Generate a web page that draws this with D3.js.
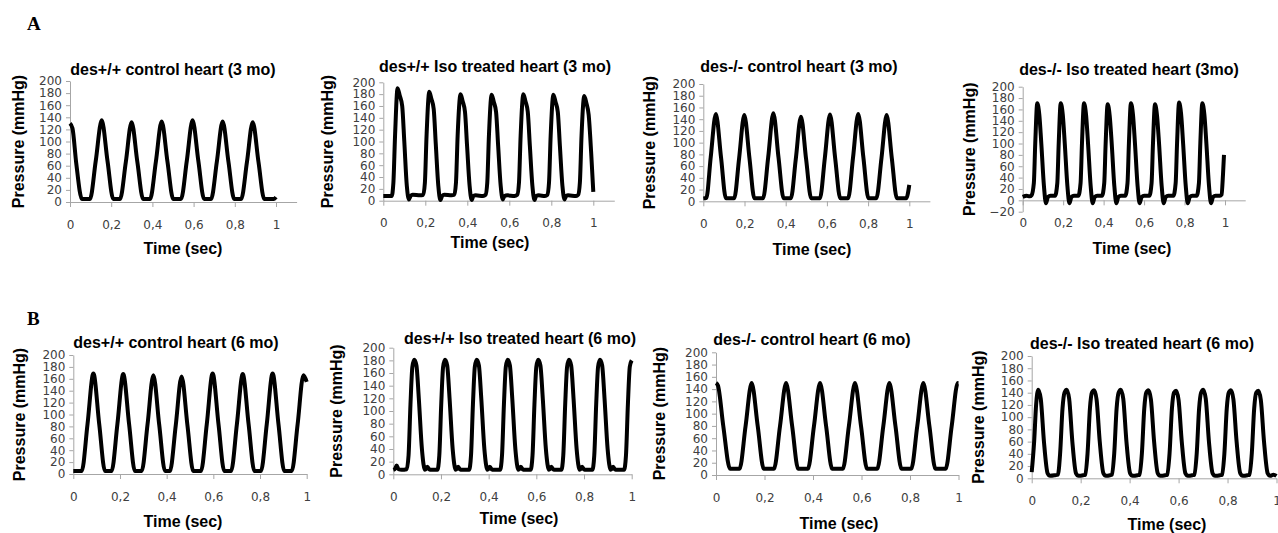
<!DOCTYPE html>
<html>
<head>
<meta charset="utf-8">
<script src="https://cdnjs.cloudflare.com/ajax/libs/d3/7.8.5/d3.min.js"></script>
<style>
body { margin: 0; background: #fff; }
</style>
</head>
<body>
<svg id="chart" width="1278" height="533"></svg>
<script>
// Pressure traces (time in sec, pressure in mmHg)
var a1Time = [0,0.012,0.03,0.058,0.097,0.125,0.154,0.182,0.21,0.243,0.271,0.299,0.327,0.355,0.389,0.417,0.445,0.473,0.501,0.539,0.567,0.595,0.623,0.651,0.685,0.713,0.741,0.769,0.797,0.831,0.859,0.887,0.915,0.943,0.99,1.0];
var a1Pressure = [130,122,65,5,5,68,135,68,5,5,66,132,66,5,5,67,133,67,5,5,68,135,68,5,5,67,133,67,5,5,66,132,66,5,5,8];

var a2Time = [0,0.04,0.048,0.056,0.068,0.078,0.09,0.1,0.112,0.122,0.13,0.14,0.175,0.19,0.198,0.206,0.219,0.229,0.24,0.25,0.262,0.272,0.28,0.29,0.325,0.338,0.346,0.354,0.368,0.378,0.389,0.399,0.411,0.421,0.429,0.44,0.475,0.487,0.495,0.503,0.516,0.526,0.537,0.547,0.559,0.569,0.577,0.59,0.625,0.638,0.646,0.654,0.667,0.677,0.688,0.698,0.71,0.72,0.728,0.74,0.77,0.781,0.789,0.797,0.81,0.82,0.831,0.841,0.853,0.863,0.871,0.88,0.918,0.928,0.936,0.944,0.957,0.967,0.978,0.99,1.0];
var a2Pressure = [8,8,30,110,190,178,160,100,25,2,8,10,9,10,30,110,184,172,155,95,25,1,8,10,9,10,30,110,180,168,150,92,25,1,8,9,8,10,30,110,179,167,150,92,25,2,8,9,8,10,30,110,180,168,150,92,25,1,8,9,8,10,30,110,179,167,150,92,25,2,8,9,8,10,30,110,177,165,145,80,15];

var a3Time = [0,0.015,0.036,0.061,0.086,0.11,0.15,0.174,0.199,0.224,0.248,0.29,0.315,0.34,0.365,0.39,0.425,0.449,0.474,0.499,0.524,0.566,0.59,0.615,0.64,0.665,0.703,0.727,0.752,0.777,0.802,0.84,0.865,0.89,0.915,0.94,0.985,1.0];
var a3Pressure = [5,6,75,149,75,5,5,74,147,74,5,5,75,150,75,5,5,72,144,72,5,5,74,148,74,5,5,75,149,75,5,5,74,147,74,5,5,28];

var a4Time = [0,0.02,0.035,0.044,0.055,0.062,0.072,0.082,0.092,0.105,0.115,0.125,0.137,
  0.16,0.171,0.178,0.188,0.198,0.208,0.221,0.231,0.241,0.253,
  0.275,0.286,0.293,0.303,0.313,0.323,0.336,0.346,0.356,0.368,
  0.392,0.403,0.41,0.42,0.43,0.44,0.453,0.463,0.473,0.485,
  0.507,0.518,0.525,0.535,0.545,0.555,0.568,0.578,0.588,0.6,
  0.626,0.637,0.644,0.654,0.664,0.674,0.687,0.697,0.707,0.719,
  0.745,0.756,0.763,0.773,0.783,0.793,0.806,0.816,0.826,0.838,
  0.86,0.871,0.878,0.888,0.898,0.908,0.921,0.931,0.941,0.953,
  0.975,0.983,0.99,0.995];
var a4Pressure = [6,8,7,9,30,100,171,151,100,25,-5,6,8,
  8,30,100,171,151,100,25,-5,6,8,
  8,30,100,171,151,100,25,-5,6,8,
  8,30,100,169,149,100,25,-5,6,8,
  8,30,100,171,151,100,25,-5,6,8,
  8,30,100,169,149,100,25,-5,6,8,
  8,30,100,172,152,100,25,-5,6,8,
  8,30,100,171,151,100,25,-5,6,8,
  8,10,45,80];

var b1Time = [0,0.036,0.061,0.086,0.111,0.136,0.164,0.189,0.214,0.239,0.264,0.293,0.318,0.343,0.368,0.393,0.414,0.439,0.464,0.489,0.514,0.547,0.572,0.597,0.622,0.647,0.676,0.701,0.726,0.751,0.776,0.804,0.829,0.854,0.879,0.904,0.936,0.961,0.986,1.0];
var b1Pressure = [5,5,84,169,84,5,5,84,168,84,5,5,83,166,83,5,5,82,164,82,5,5,84,169,84,5,5,84,168,84,5,5,84,169,84,5,5,83,166,155];

var b2Time = [0,0.008,0.014,0.022,0.035,0.056,0.064,0.072,0.08,0.088,0.097,0.107,0.12,0.133,0.143,0.153,
  0.185,0.193,0.201,0.209,0.217,0.226,0.236,0.249,0.262,0.272,0.282,
  0.318,0.326,0.334,0.342,0.35,0.359,0.369,0.382,0.395,0.405,0.415,
  0.448,0.456,0.464,0.472,0.48,0.489,0.499,0.512,0.525,0.535,0.545,
  0.576,0.584,0.592,0.6,0.608,0.617,0.627,0.64,0.653,0.663,0.673,
  0.705,0.713,0.721,0.729,0.737,0.746,0.756,0.769,0.782,0.792,0.802,
  0.835,0.843,0.851,0.859,0.867,0.876,0.886,0.899,0.912,0.922,0.932,
  0.968,0.976,0.984,0.992,1.0];
var b2Pressure = [7,9,14,8,7,8,30,110,170,181,172,120,40,7,12,7,
  7,30,110,170,181,172,120,40,7,12,7,
  7,30,110,170,181,172,120,40,7,12,7,
  7,30,110,170,181,172,120,40,7,12,7,
  7,30,110,170,181,172,120,40,7,12,7,
  7,30,110,170,181,172,120,40,7,12,7,
  7,30,110,170,181,172,120,40,7,12,7,
  7,30,110,170,180];

var b3Time = [0,0.008,0.03,0.058,0.097,0.122,0.147,0.172,0.197,0.239,0.264,0.289,0.314,0.339,0.379,0.404,0.429,0.454,0.479,0.523,0.548,0.573,0.598,0.623,0.665,0.69,0.715,0.74,0.765,0.805,0.83,0.855,0.88,0.905,0.947,0.972,0.997,1.0];
var b3Pressure = [150,146,80,10,10,80,150,80,10,10,80,150,80,10,10,80,150,80,10,10,80,150,80,10,10,80,150,80,10,10,80,150,80,10,10,80,150,150];

var b4Time = [0,0.01,0.018,0.027,0.037,0.05,0.065,0.075,0.095,
  0.107,0.116,0.126,0.134,0.143,0.153,0.166,0.181,0.191,0.21,
  0.219,0.228,0.238,0.246,0.255,0.265,0.278,0.293,0.303,0.32,
  0.328,0.337,0.347,0.355,0.364,0.374,0.387,0.402,0.412,0.432,
  0.441,0.45,0.46,0.468,0.477,0.487,0.5,0.515,0.525,0.545,
  0.554,0.563,0.573,0.581,0.59,0.6,0.613,0.628,0.638,0.656,
  0.665,0.674,0.684,0.692,0.701,0.711,0.724,0.739,0.749,0.769,
  0.778,0.787,0.797,0.805,0.814,0.824,0.837,0.852,0.862,0.881,
  0.89,0.899,0.909,0.917,0.926,0.936,0.949,0.964,0.974,0.988,1.0];
var b4Pressure = [10,60,120,145,130,60,8,4,5,
  6,40,115,140,145,130,60,8,4,5,
  6,40,115,140,144,129,60,8,4,5,
  6,40,115,140,145,130,60,8,4,5,
  6,40,115,140,144,129,60,8,4,5,
  6,40,115,140,143,128,60,8,4,5,
  6,40,115,140,145,130,60,8,4,5,
  6,40,115,140,144,129,60,8,4,5,
  6,40,115,140,143,128,60,8,4,6,4];

var panelTitles = ['des+/+ control heart (3 mo)', 'des+/+ Iso treated heart (3 mo)', 'des-/- control heart (3 mo)', 'des-/- Iso treated heart (3mo)',
  'des+/+ control heart (6 mo)', 'des+/+ Iso treated heart (6 mo)', 'des-/- control heart (6 mo)', 'des-/- Iso treated heart (6 mo)'];
var xTicks = [0, 0.2, 0.4, 0.6, 0.8, 1];
var yTicks = [0, 20, 40, 60, 80, 100, 120, 140, 160, 180, 200];
var yTicksNeg = [-20, 0, 20, 40, 60, 80, 100, 120, 140, 160, 180, 200];
var xLabel = 'Time (sec)';
var yLabel = 'Pressure (mmHg)';

var svg = d3.select('#chart');

// where each small chart sits on the page
var panels = [
  {time: a1Time, p: a1Pressure, ticks: yTicks, left: 70, right: 276, xMax: 1.1, top: 81, bottom: 202, tx: 173, ty: 75, lx: 183, ly: 254, px: 23.5},
  {time: a2Time, p: a2Pressure, ticks: yTicks, left: 383.3, right: 593.3, xMax: 1.1, top: 82.3, bottom: 200.7, tx: 495, ty: 72, lx: 490, ly: 248, px: 333},
  {time: a3Time, p: a3Pressure, ticks: yTicks, left: 703.3, right: 909.3, xMax: 1.1, top: 84, bottom: 201.3, tx: 799, ty: 72, lx: 812, ly: 255, px: 654.5},
  {time: a4Time, p: a4Pressure, ticks: yTicksNeg, left: 1022.7, right: 1225, xMax: 1.1, top: 86.7, bottom: 211.7, tx: 1129, ty: 75, lx: 1132, ly: 254, px: 974.5},
  {time: b1Time, p: b1Pressure, ticks: yTicks, left: 73.3, right: 306.7, xMax: 1, top: 355, bottom: 474, tx: 176, ty: 348, lx: 183, ly: 527, px: 24.5},
  {time: b2Time, p: b2Pressure, ticks: yTicks, left: 393.3, right: 631.7, xMax: 1, top: 347.7, bottom: 474.3, tx: 520, ty: 344, lx: 519, ly: 524, px: 341.5},
  {time: b3Time, p: b3Pressure, ticks: yTicks, left: 716, right: 958.5, xMax: 1, top: 352.3, bottom: 475, tx: 812, ty: 345, lx: 839, ly: 529, px: 664.5},
  {time: b4Time, p: b4Pressure, ticks: yTicks, left: 1031.7, right: 1276.5, xMax: 1, top: 356, bottom: 478.3, tx: 1142, ty: 349, lx: 1167, ly: 530, px: 983.5}
];

function commaFormat(d){
  return String(+d.toFixed(1)).replace('.', ',');
}

function styleAxis(g){
  g.selectAll('.domain, .tick line').attr('stroke', '#a6a6a6').attr('stroke-width', 1);
  g.selectAll('text')
    .attr('fill', '#404040')
    .attr('font-family', 'DejaVu Sans, sans-serif')
    .attr('font-size', 12);
}

function drawPanel(cfg, i){
  var yMin = cfg.ticks[0];
  var x = d3.scaleLinear().domain([0, cfg.xMax]).range([cfg.left, cfg.left + (cfg.right - cfg.left) * cfg.xMax]);
  var y = d3.scaleLinear().domain([yMin, 200]).range([cfg.bottom, cfg.top]);
  var g = svg.append('g');

  g.append('g')
    .attr('transform', 'translate(0,' + y(0) + ')')
    .call(d3.axisBottom(x).tickValues(xTicks).tickFormat(commaFormat).tickSizeInner(5).tickSizeOuter(0).tickPadding(13))
    .call(styleAxis);

  g.append('g')
    .attr('transform', 'translate(' + x(0) + ',0)')
    .call(d3.axisLeft(y).tickValues(cfg.ticks).tickSizeInner(4).tickSizeOuter(0).tickPadding(4))
    .call(styleAxis);

  var line = d3.line()
    .x(function(d){ return x(d[0]); })
    .y(function(d){ return y(d[1]); })
    .curve(d3.curveMonotoneX);

  g.append('path')
    .datum(d3.zip(cfg.time, cfg.p))
    .attr('d', line)
    .attr('fill', 'none')
    .attr('stroke', '#000')
    .attr('stroke-width', 4)
    .attr('stroke-linejoin', 'round');

  g.append('text')
    .attr('x', cfg.tx).attr('y', cfg.ty)
    .attr('text-anchor', 'middle')
    .attr('font-family', 'Liberation Sans, Arial, sans-serif')
    .attr('font-weight', 'bold').attr('font-size', 16)
    .text(panelTitles[i]);

  g.append('text')
    .attr('x', cfg.lx).attr('y', cfg.ly)
    .attr('text-anchor', 'middle')
    .attr('font-family', 'Liberation Sans, Arial, sans-serif')
    .attr('font-weight', 'bold').attr('font-size', 16)
    .text(xLabel);

  g.append('text')
    .attr('transform', 'translate(' + cfg.px + ',' + (cfg.top + cfg.bottom) / 2 + ') rotate(-90)')
    .attr('text-anchor', 'middle')
    .attr('font-family', 'Liberation Sans, Arial, sans-serif')
    .attr('font-weight', 'bold').attr('font-size', 16)
    .text(yLabel);
}

panels.forEach(drawPanel);

// row letters
[['A', 30], ['B', 325]].forEach(function(r){
  svg.append('text')
    .attr('x', 27).attr('y', r[1])
    .attr('font-family', 'Liberation Serif, Times New Roman, serif')
    .attr('font-weight', 'bold').attr('font-size', 19)
    .text(r[0]);
});
</script>
</body>
</html>
